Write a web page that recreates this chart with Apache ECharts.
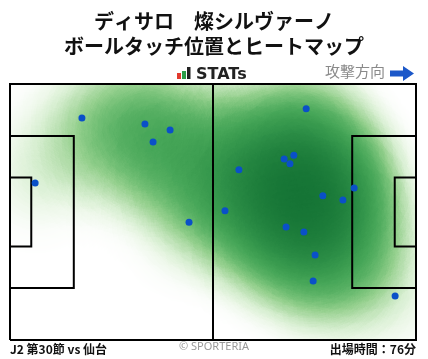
<!DOCTYPE html>
<html><head><meta charset="utf-8">
<script src="https://cdn.jsdelivr.net/npm/echarts@6.0.0/dist/echarts.min.js"></script>
<style>html,body{margin:0;padding:0;background:#fff}#c{width:428px;height:359px}</style>
</head><body><div id="c"></div>
<script>
// ---- data (pitch metres, x: 0-105 attacking right, y: 0-68 bottom->top) ----
const touchX = [18.6, 34.9, 41.4, 37.0, 6.5, 76.6, 73.4, 70.9, 72.4, 59.2, 89.0, 80.9, 86.1, 55.6, 46.3, 71.4, 76.0, 78.9, 78.4, 99.6];
const touchY = [59.0, 57.4, 55.8, 52.6, 41.7, 61.4, 49.1, 48.1, 46.8, 45.2, 40.4, 38.3, 37.2, 34.3, 31.3, 30.0, 28.7, 22.6, 15.7, 11.7];
const pitchOutline = [[0,0],[105,0],[105,68],[0,68],[0,0]];
const centerLine = [[52.5,0],[52.5,68]];
const leftBox = [[0,13.84],[16.5,13.84],[16.5,54.16],[0,54.16]];
const leftSix = [[0,24.84],[5.5,24.84],[5.5,43.16],[0,43.16]];
const rightBox = [[105,13.84],[88.5,13.84],[88.5,54.16],[105,54.16]];
const rightSix = [[105,24.84],[99.5,24.84],[99.5,43.16],[105,43.16]];
const titleLines = ['ディサロ　燦シルヴァーノ', 'ボールタッチ位置とヒートマップ'];
const brandText = 'STATs';
const directionText = '攻撃方向';
const footerLeft = 'J2 第30節 vs 仙台';
const footerCenter = '© SPORTERIA';
const footerRight = '出場時間：76分';

echarts.registerMap('pitch', {type:'FeatureCollection', features:[{type:'Feature', properties:{name:'pitch'},
  geometry:{type:'Polygon', coordinates:[pitchOutline]}}]});

const touches = touchX.map((x, i) => [x, touchY[i], 1]);
const lineData = [pitchOutline, centerLine, leftBox, leftSix, rightBox, rightSix].map(c => ({coords: c}));

const heatColors = ['#ffffff','#ffffff','#fbfdfa','#eef8ea','#d8efd2','#b9e0b1','#95d08e','#72bf75','#57b063','#45a557',
  '#389a4e','#2d8f47','#248540','#1c7c3a','#157435','#0f6c30','#0a652c','#055e28','#025724','#005121','#004c1e'];

const FONT = '"Noto Sans CJK JP", "Noto Sans", sans-serif';
const chart = echarts.init(document.getElementById('c'), null, {renderer:'canvas'});
chart.setOption({
  animation: false,
  backgroundColor: '#fff',
  geo: {
    map: 'pitch', roam: false, silent: true,
    left: 10, top: 84, width: 406, height: 256,
    aspectScale: 1.0272,
    boundingCoords: [[0, 68], [105, 0]],
    itemStyle: {areaColor: '#ffffff', borderWidth: 0},
    label: {show: false},
    emphasis: {disabled: true},
    select: {disabled: true}
  },
  visualMap: {
    type: 'continuous', show: false, seriesIndex: 0,
    min: 0, max: 2.45, calculable: false,
    inRange: {color: heatColors}
  },
  series: [
    {
      type: 'heatmap', coordinateSystem: 'geo', geoIndex: 0,
      data: touches, pointSize: 45, blurSize: 95, minOpacity: 1, maxOpacity: 1,
      silent: true, z: 1
    },
    {
      type: 'lines', coordinateSystem: 'geo', geoIndex: 0, polyline: true, silent: true,
      data: lineData, lineStyle: {color: '#000', width: 2, opacity: 1}, z: 3
    },
    {
      type: 'scatter', coordinateSystem: 'geo', geoIndex: 0, silent: true,
      data: touches.map(d => [d[0], d[1]]), symbolSize: 7,
      itemStyle: {color: '#0a50c8', opacity: 1}, z: 4
    }
  ],
  graphic: [
    {type:'text', left:'center', top: 11, style:{text: titleLines[0], font: 'bold 20px ' + FONT, fill:'#111'}},
    {type:'text', left:'center', top: 36, style:{text: titleLines[1], font: 'bold 20px ' + FONT, fill:'#111'}},
    {type:'rect', shape:{x:177, y:73, width:4, height:6}, style:{fill:'#e23a2e'}},
    {type:'rect', shape:{x:182, y:71, width:4, height:8}, style:{fill:'#2c9c48'}},
    {type:'rect', shape:{x:187, y:67, width:3.5, height:12}, style:{fill:'#222'}},
    {type:'text', x:196, y:67, style:{text: brandText, font: 'bold 16px "DejaVu Sans", sans-serif', fill:'#222'}},
    {type:'text', x:325, y:64, style:{text: directionText, font: '15px ' + FONT, fill:'#8a8a8a'}},
    {type:'polygon', shape:{points:[[390,70.5],[403,70.5],[403,66],[414,73.5],[403,81],[403,76.5],[390,76.5]]}, style:{fill:'#1c58c9'}},
    {type:'text', x:10, y:343, style:{text: footerLeft, font: 'bold 12px ' + FONT, fill:'#111'}},
    {type:'text', left:'center', top:341, style:{text: footerCenter, font: '11px "Noto Sans", sans-serif', fill:'#999'}},
    {type:'text', right:12, top:343, style:{text: footerRight, font: 'bold 12px ' + FONT, fill:'#111'}}
  ]
});
</script></body></html>
